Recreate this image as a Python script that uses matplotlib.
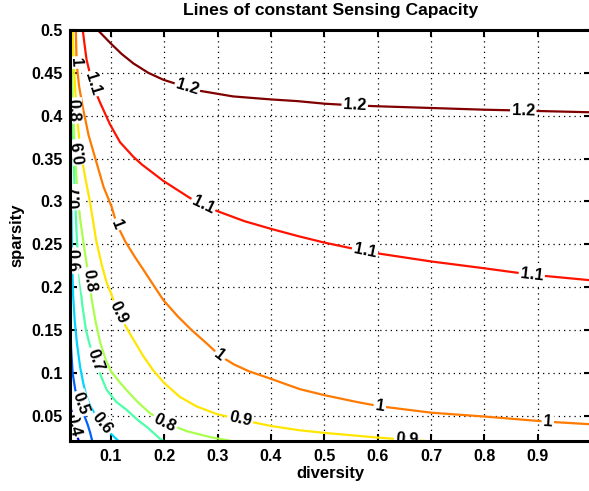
import numpy as np
import matplotlib
matplotlib.use("Agg")
import matplotlib.pyplot as plt
from matplotlib import colors

plt.rcParams['font.family'] = ['Liberation Sans', 'DejaVu Sans']
plt.rcParams['font.weight'] = 'bold'

# ---- data: traced contour lines (diversity x, sparsity y) per level ----
levels = [0.4, 0.5, 0.6, 0.7, 0.8, 0.9, 1.0, 1.1, 1.2]

c04_x = [0.0232, 0.027, 0.030, 0.035, 0.040]
c04_y = [0.075, 0.050, 0.039, 0.029, 0.020]

c05_x = [0.0232, 0.025, 0.028, 0.033, 0.042, 0.050, 0.056, 0.061, 0.065]
c05_y = [0.200, 0.130, 0.100, 0.080, 0.064, 0.050, 0.040, 0.030, 0.020]

c06_x = [0.0232, 0.025, 0.027, 0.029, 0.032, 0.036, 0.042, 0.048, 0.054, 0.062, 0.072, 0.083, 0.095, 0.108, 0.115]
c06_y = [0.450, 0.320, 0.231, 0.190, 0.160, 0.135, 0.107, 0.088, 0.072, 0.060, 0.050, 0.041, 0.032, 0.024, 0.020]

c07_x = [0.024, 0.026, 0.029, 0.0325, 0.036, 0.041, 0.046, 0.053, 0.060, 0.070, 0.080, 0.092, 0.110, 0.129, 0.150, 0.167, 0.192, 0.200]
c07_y = [0.500, 0.420, 0.360, 0.305, 0.255, 0.210, 0.180, 0.150, 0.133, 0.115, 0.098, 0.080, 0.066, 0.057, 0.045, 0.037, 0.023, 0.020]

c08_x = [0.0255, 0.027, 0.029, 0.032, 0.036, 0.042, 0.050, 0.059, 0.064, 0.071, 0.080, 0.090, 0.100, 0.115, 0.129, 0.150, 0.173, 0.201, 0.242, 0.286, 0.330]
c08_y = [0.500, 0.450, 0.406, 0.360, 0.320, 0.280, 0.245, 0.208, 0.185, 0.160, 0.135, 0.115, 0.102, 0.090, 0.080, 0.066, 0.053, 0.042, 0.032, 0.025, 0.020]

c09_x = [0.028, 0.031, 0.036, 0.043, 0.051, 0.061, 0.072, 0.083, 0.092, 0.101, 0.113, 0.139, 0.160, 0.179, 0.200, 0.229, 0.260, 0.298, 0.342, 0.400, 0.454, 0.500, 0.600, 0.655, 0.700, 0.750]
c09_y = [0.500, 0.450, 0.400, 0.358, 0.330, 0.298, 0.255, 0.225, 0.205, 0.191, 0.170, 0.142, 0.120, 0.103, 0.088, 0.072, 0.061, 0.052, 0.0455, 0.038, 0.033, 0.030, 0.0245, 0.022, 0.020, 0.018]

c10_x = [0.034, 0.0355, 0.040, 0.047, 0.054, 0.058, 0.073, 0.086, 0.101, 0.111, 0.127, 0.145, 0.161, 0.198, 0.225, 0.251, 0.280, 0.304, 0.330, 0.358, 0.400, 0.454, 0.500, 0.561, 0.604, 0.701, 0.801, 0.899, 0.919, 1.000]
c10_y = [0.500, 0.462, 0.435, 0.410, 0.389, 0.377, 0.345, 0.317, 0.294, 0.273, 0.253, 0.235, 0.220, 0.185, 0.166, 0.150, 0.134, 0.120, 0.110, 0.102, 0.093, 0.081, 0.074, 0.066, 0.061, 0.0535, 0.049, 0.044, 0.043, 0.040]

c11_x = [0.047, 0.050, 0.054, 0.065, 0.079, 0.098, 0.117, 0.142, 0.158, 0.198, 0.248, 0.273, 0.298, 0.350, 0.400, 0.454, 0.500, 0.576, 0.604, 0.700, 0.800, 0.889, 1.000]
c11_y = [0.500, 0.485, 0.466, 0.437, 0.416, 0.390, 0.369, 0.352, 0.343, 0.324, 0.304, 0.296, 0.289, 0.277, 0.268, 0.259, 0.252, 0.242, 0.239, 0.230, 0.222, 0.2145, 0.208]

c12_x = [0.075, 0.086, 0.100, 0.120, 0.142, 0.170, 0.198, 0.243, 0.267, 0.329, 0.400, 0.450, 0.501, 0.557, 0.601, 0.701, 0.801, 0.873, 0.901, 1.000]
c12_y = [0.500, 0.493, 0.484, 0.472, 0.461, 0.450, 0.442, 0.433, 0.429, 0.4225, 0.419, 0.417, 0.414, 0.412, 0.411, 0.409, 0.407, 0.406, 0.4055, 0.404]

curves_x = [c04_x, c05_x, c06_x, c07_x, c08_x, c09_x, c10_x, c11_x, c12_x]
curves_y = [c04_y, c05_y, c06_y, c07_y, c08_y, c09_y, c10_y, c11_y, c12_y]

# contour labels: level, x, y, flip
label_level = [0.4, 0.5, 0.6, 0.6, 0.7, 0.7, 0.8, 0.8, 0.8, 0.9, 0.9, 0.9, 0.9,
               1.0, 1.0, 1.0, 1.0, 1.0, 1.1, 1.1, 1.1, 1.1, 1.2, 1.2, 1.2]
label_x = [0.030, 0.042, 0.027, 0.083, 0.0325, 0.070, 0.029, 0.059, 0.201, 0.043, 0.113, 0.342, 0.655,
           0.0345, 0.111, 0.304, 0.604, 0.919, 0.065, 0.273, 0.576, 0.889, 0.243, 0.557, 0.873]
label_y = [0.039, 0.064, 0.231, 0.041, 0.305, 0.115, 0.406, 0.208, 0.042, 0.358, 0.170, 0.0455, 0.022,
           0.462, 0.273, 0.120, 0.061, 0.043, 0.437, 0.296, 0.242, 0.2145, 0.433, 0.412, 0.406]
label_flip = [0, 0, 0, 0, 1, 0, 0, 0, 0, 1, 0, 0, 0,
              0, 0, 0, 0, 0, 0, 0, 0, 0, 0, 0, 0]

xticks = [0.1, 0.2, 0.3, 0.4, 0.5, 0.6, 0.7, 0.8, 0.9]
yticks = [0.05, 0.1, 0.15, 0.2, 0.25, 0.3, 0.35, 0.4, 0.45, 0.5]
ytick_labels = ['0.05', '0.1', '0.15', '0.2', '0.25', '0.3', '0.35', '0.4', '0.45', '0.5']

# ---- figure ----
W, H = 589, 491
fig = plt.figure(figsize=(W / 100, H / 100), dpi=100)
ax = fig.add_axes([70 / W, 50 / H, 521 / W, 411 / H])
ax.set_xlim(0.0231, 1.0)
ax.set_ylim(0.0205, 0.4995)

cmap = plt.get_cmap('jet')
norm = colors.Normalize(vmin=0.3, vmax=1.2)

for lev, xs, ys in zip(levels, curves_x, curves_y):
    ax.plot(xs, ys, color=cmap(norm(lev)), lw=1.6, solid_capstyle='round', zorder=3)

ax.set_xticks(xticks)
ax.set_xticklabels([f"{v:g}" for v in xticks])
ax.set_yticks(yticks)
ax.set_yticklabels(ytick_labels)
ax.grid(True, linestyle=(0, (1, 3.2)), color='black', lw=0.9)
ax.tick_params(direction='in', top=True, right=True, length=5, width=1.5,
               labelsize=11.5)
ax.tick_params(axis='x', pad=6)
ax.tick_params(axis='y', pad=5)
for lab in ax.get_xticklabels() + ax.get_yticklabels():
    lab.set_fontweight('bold')
for sp in ax.spines.values():
    sp.set_linewidth(2.2)
    sp.set_zorder(6)

ax.set_xlabel('diversity', fontsize=12, fontweight='bold', labelpad=1)
ax.set_ylabel('sparsity', fontsize=12, fontweight='bold', labelpad=5)
fig.text(331 / W, 1 - 10 / H, 'Lines of constant Sensing Capacity',
         ha='center', va='center', fontsize=12.6, fontweight='bold')

# contour labels, rotated along the local line direction
fig.canvas.draw()
lev_index = {lev: i for i, lev in enumerate(levels)}
for lev, lx, ly, fl in zip(label_level, label_x, label_y, label_flip):
    i = lev_index[lev]
    pts = ax.transData.transform(np.column_stack([curves_x[i], curves_y[i]]))
    p = ax.transData.transform((lx, ly))
    d = np.hypot(pts[:, 0] - p[0], pts[:, 1] - p[1])
    k = int(np.argmin(d))
    k0, k1 = max(k - 1, 0), min(k + 1, len(pts) - 1)
    dx, dy = pts[k1] - pts[k0]
    ang = np.degrees(np.arctan2(dy, dx))
    if ang > 90:
        ang -= 180
    if ang <= -90:
        ang += 180
    if fl:
        ang += 180
    ax.text(lx, ly, f"{lev:g}", rotation=ang, rotation_mode='anchor',
            ha='center', va='center', fontsize=12, fontweight='bold',
            color='black', zorder=5, clip_on=True,
            bbox=dict(boxstyle='square,pad=0.1', fc='white', ec='none'))

fig.savefig('out.png', dpi=100)
